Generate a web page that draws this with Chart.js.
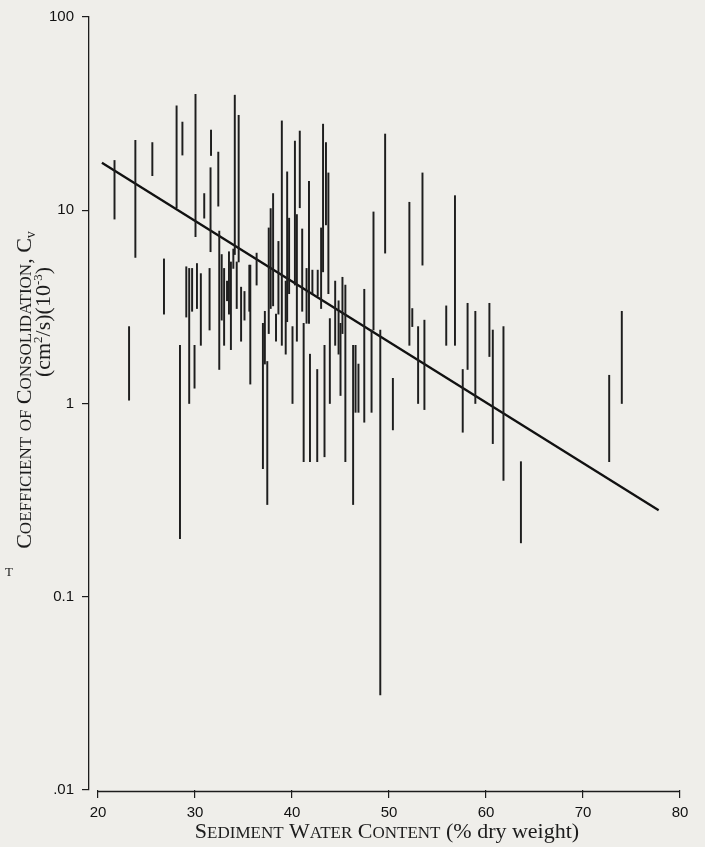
<!DOCTYPE html>
<html><head><meta charset="utf-8">
<script src="https://cdn.jsdelivr.net/npm/chart.js@4.4.0/dist/chart.umd.min.js"></script>
<style>
html,body{margin:0;padding:0;background:#efeeea;}
#wrap{position:relative;width:705px;height:847px;}
</style></head><body>
<div id="wrap"><canvas id="c" width="705" height="847"></canvas></div>
<script>
// ---- data ----
const waterContent = [21.7,23.2,23.85,25.6,26.8,28.1,28.45,28.7,29.1,29.4,29.7,29.95,30.05,30.2,30.6,30.95,31.5,31.6,31.65,32.4,32.5,32.75,33.0,33.3,33.5,33.7,33.95,34.1,34.3,34.5,34.75,35.1,35.6,35.7,36.35,37.0,37.2,37.45,37.6,37.8,38.05,38.35,38.6,38.95,39.35,39.5,39.7,40.05,40.3,40.5,40.8,41.05,41.2,41.5,41.75,41.85,42.1,42.6,42.65,43.0,43.2,43.35,43.5,43.75,43.9,44.45,44.8,45.0,45.2,45.5,46.3,46.55,46.85,47.45,48.2,48.4,49.1,49.6,50.4,52.1,52.4,53.0,53.45,53.65,55.9,56.8,57.6,58.1,58.9,60.35,60.7,61.8,63.6,72.7,74.0];
const cvLow = [9.0,1.04,5.7,15.1,2.9,10.3,0.2,19.3,2.8,1.0,3.0,1.2,7.3,3.1,2.0,9.1,2.4,6.1,19.2,10.5,1.5,2.7,2.0,3.4,2.9,1.9,5.0,5.9,3.1,5.4,2.1,2.7,3.0,1.26,4.1,0.46,1.6,0.3,2.3,3.1,3.2,2.1,2.9,2.0,1.8,2.65,3.7,1.0,4.1,2.1,10.3,3.0,0.5,2.6,2.6,0.5,3.7,0.5,3.6,3.1,4.8,0.53,8.4,3.7,1.0,2.0,1.8,1.1,2.3,0.5,0.3,0.9,0.9,0.8,0.9,2.4,0.031,6.0,0.73,2.0,2.5,1.0,5.2,0.93,2.0,2.0,0.71,1.5,1.0,1.75,0.62,0.4,0.19,0.5,1.0];
const cvHigh = [18.1,2.5,23.0,22.4,5.6,34.7,2.0,28.6,5.1,5.0,5.0,2.0,39.8,5.3,4.7,12.2,5.0,16.6,26.0,20.0,7.8,5.9,5.0,4.3,6.1,5.4,6.3,39.4,5.4,31.0,4.0,3.8,5.2,5.2,6.0,2.6,3.0,1.65,8.1,10.2,12.2,2.9,6.9,29.0,4.3,15.8,9.1,2.5,22.8,9.5,25.7,8.0,2.6,5.0,14.1,1.8,4.9,1.5,4.9,8.1,27.9,2.0,22.4,15.6,2.75,4.3,3.4,2.6,4.5,4.1,2.0,2.0,1.6,3.9,2.4,9.8,2.4,24.8,1.35,11.0,3.1,2.5,15.6,2.7,3.2,11.9,1.5,3.3,3.0,3.3,2.4,2.5,0.5,1.4,3.0];
const fitWaterContent = [20.4, 77.8];
const fitCv = [17.6, 0.28];
const xTickValues = [20,30,40,50,60,70,80];
const yTickValues = [0.01,0.1,1,10,100];
const yTickLabels = ['.01','0.1','1','10','100'];
const xTitleCaps = 'Sediment Water Content';
const xTitleRest = ' (% dry weight)';
const yTitleCaps = 'Coefficient of Consolidation, C';
const yTitleSub = 'v';

const SERIF = "'Liberation Serif','Times New Roman',serif";
const SANS = "'Liberation Sans',Arial,sans-serif";
const INK = '#1c1c1c';

function smallCapsRuns(text, big, small) {
  const runs = [];
  for (const ch of text) {
    const isSmall = ch !== ch.toUpperCase();
    const size = isSmall ? small : big;
    const t = isSmall ? ch.toUpperCase() : ch;
    if (runs.length && runs[runs.length-1].size === size && !runs[runs.length-1].rise) runs[runs.length-1].t += t;
    else runs.push({t, size, rise: 0});
  }
  return runs;
}
function drawRuns(ctx, runs, cx, baseline) {
  let total = 0;
  runs.forEach(r => { ctx.font = r.size + 'px ' + SERIF; r.w = ctx.measureText(r.t).width; total += r.w; });
  let x = cx - total / 2;
  ctx.textAlign = 'left';
  ctx.textBaseline = 'alphabetic';
  runs.forEach(r => { ctx.font = r.size + 'px ' + SERIF; ctx.fillText(r.t, x, baseline - (r.rise || 0)); x += r.w; });
}

const decorPlugin = {
  id: 'decor',
  afterDraw(chart) {
    const ctx = chart.ctx;
    const xs = chart.scales.x;
    const area = chart.chartArea;
    ctx.save();
    ctx.strokeStyle = INK;
    ctx.lineWidth = 1.3;
    ctx.beginPath();
    const y0 = area.bottom + 1.5;
    ctx.moveTo(xs.getPixelForValue(xTickValues[0]), y0);
    ctx.lineTo(xs.getPixelForValue(xTickValues[xTickValues.length-1]), y0);
    ctx.stroke();

    ctx.fillStyle = INK;
    const xr = smallCapsRuns(xTitleCaps, 22, 17).concat([{t: xTitleRest, size: 22, rise: 0}]);
    drawRuns(ctx, xr, 387, 838);

    ctx.save();
    ctx.translate(30.5, 390);
    ctx.rotate(-Math.PI / 2);
    const yr = smallCapsRuns(yTitleCaps, 22, 17).concat([{t: yTitleSub, size: 14, rise: -4}]);
    drawRuns(ctx, yr, 0, 0);
    ctx.restore();

    ctx.save();
    ctx.translate(49.5, 322);
    ctx.rotate(-Math.PI / 2);
    drawRuns(ctx, [
      {t: '(cm', size: 22, rise: 0},
      {t: '2', size: 13, rise: 8},
      {t: '/s)(10', size: 22, rise: 0},
      {t: '-3', size: 13, rise: 8},
      {t: ')', size: 22, rise: 0}
    ], 0, 0);
    ctx.restore();

    ctx.font = '13px ' + SERIF;
    ctx.textAlign = 'left';
    ctx.fillText('T', 5, 576);
    ctx.restore();
  }
};

new Chart(document.getElementById('c'), {
  type: 'bar',
  data: {
    datasets: [
      {
        type: 'bar',
        data: waterContent.map((x, i) => ({x: x, y: [cvLow[i], cvHigh[i]]})),
        backgroundColor: '#1e1e1e',
        borderWidth: 0,
        borderSkipped: false,
        barThickness: 1.3,
        grouped: false
      },
      {
        type: 'line',
        data: fitWaterContent.map((x, i) => ({x: x, y: fitCv[i]})),
        borderColor: '#111',
        borderWidth: 2.3,
        pointRadius: 0,
        fill: false,
        tension: 0
      }
    ]
  },
  options: {
    responsive: false,
    animation: false,
    devicePixelRatio: 1,
    layout: {padding: {top: 15, right: 25, left: 0, bottom: 0}},
    plugins: {legend: {display: false}, tooltip: {enabled: false}},
    scales: {
      x: {
        type: 'linear',
        min: 19.07,
        max: 80,
        offset: false,
        position: 'bottom',
        border: {display: false},
        grid: {offset: false, drawOnChartArea: false, drawTicks: true, tickLength: 8, color: INK, lineWidth: 1.2},
        ticks: {font: {family: SANS, size: 15}, color: '#111', padding: 6, maxRotation: 0, autoSkip: false,
                callback: v => String(v)},
        afterBuildTicks: s => { s.ticks = xTickValues.map(v => ({value: v})); },
        afterFit: s => { s.height = 57; }
      },
      y: {
        type: 'logarithmic',
        min: 0.01,
        max: 100,
        border: {display: true, color: INK, width: 1.3},
        grid: {drawOnChartArea: false, drawTicks: true, tickLength: 7, color: INK, lineWidth: 1.2},
        ticks: {font: {family: SANS, size: 15}, color: '#111', padding: 8, autoSkip: false,
                callback: (v, i) => yTickLabels[i]},
        afterBuildTicks: s => { s.ticks = yTickValues.map(v => ({value: v})); },
        afterFit: s => { s.width = 89; }
      }
    }
  },
  plugins: [decorPlugin]
});
</script>
</body></html>
